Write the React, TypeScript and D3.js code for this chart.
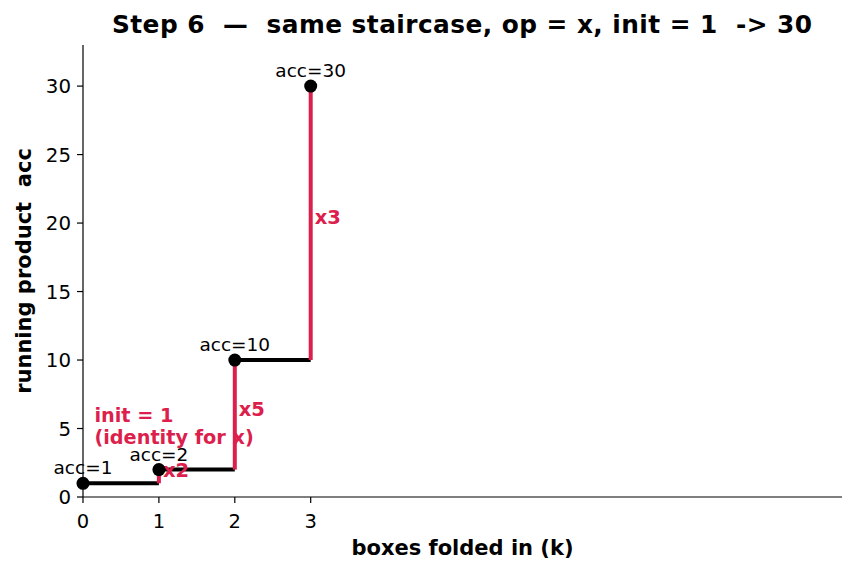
import React from "react";
import * as d3 from "d3";

const ks = [0, 1, 2, 3];
const accs = [1, 2, 10, 30];
const factors = ["x2", "x5", "x3"];
const xTicks = [0, 1, 2, 3];
const yTicks = [0, 5, 10, 15, 20, 25, 30];
const titleText = "Step 6  \u2014  same staircase, op = x, init = 1  -> 30";
const xLabel = "boxes folded in (k)";
const yLabel = "running product  acc";
const initNote = ["init = 1", "(identity for x)"];

const W = 856, H = 573;
const M = { left: 83, right: 842, top: 45, bottom: 497 };
const RED = "#dc1f4c";
const FONT = "DejaVu Sans, sans-serif";

export default function App() {
  const x = d3.scaleLinear().domain([0, 10]).range([M.left, M.right]);
  const y = d3.scaleLinear().domain([0, 33]).range([M.bottom, M.top]);

  const horiz = ks.slice(0, -1).map((k, i) => ({ x1: x(k), x2: x(ks[i + 1]), y: y(accs[i]) }));
  const vert = ks.slice(1).map((k, i) => ({ x: x(k), y1: y(accs[i]), y2: y(accs[i + 1]) }));

  return (
    <svg width={W} height={H} style={{ display: "block", position: "absolute", left: 0, top: 0, whiteSpace: "pre" }} fontFamily={FONT}>
      <rect width={W} height={H} fill="#fff" />
      <text x={462} y={33} textAnchor="middle" fontSize={24.8} fontWeight="bold" xmlSpace="preserve" textLength={700} lengthAdjust="spacing" style={{ whiteSpace: "pre" }}>{titleText}</text>

      {horiz.map((h, i) => (
        <line key={"h" + i} x1={h.x1} x2={h.x2} y1={h.y} y2={h.y} stroke="#000" strokeWidth={4} />
      ))}
      {vert.map((v, i) => (
        <line key={"v" + i} x1={v.x} x2={v.x} y1={v.y1} y2={v.y2} stroke={RED} strokeWidth={4} />
      ))}
      {vert.map((v, i) => (
        <text key={"f" + i} x={v.x + 4} y={(v.y1 + v.y2) / 2 + 1} fill={RED} fontSize={19.5} fontWeight="bold">{factors[i]}</text>
      ))}
      {ks.map((k, i) => (
        <circle key={"c" + i} cx={x(k)} cy={y(accs[i])} r={6.5} fill="#000" />
      ))}
      {ks.map((k, i) => (
        <text key={"t" + i} x={x(k)} y={y(accs[i]) - 9} textAnchor="middle" fontSize={18.5} fill="#000">{"acc=" + accs[i]}</text>
      ))}
      {initNote.map((s, i) => (
        <text key={"n" + i} x={x(0.15)} y={422 + i * 22} fill={RED} fontSize={19.3} fontWeight="bold">{s}</text>
      ))}

      {/* axes */}
      <line x1={M.left} x2={M.left} y1={M.top} y2={M.bottom} stroke="#000" strokeWidth={1.2} />
      <line x1={M.left} x2={M.right} y1={M.bottom} y2={M.bottom} stroke="#000" strokeWidth={1.2} />
      {xTicks.map(t => (
        <g key={"xt" + t}>
          <line x1={x(t)} x2={x(t)} y1={M.bottom} y2={M.bottom + 6} stroke="#000" strokeWidth={1.2} />
          <text x={x(t)} y={528} textAnchor="middle" fontSize={19.5}>{t}</text>
        </g>
      ))}
      {yTicks.map(t => (
        <g key={"yt" + t}>
          <line x1={M.left - 6} x2={M.left} y1={y(t)} y2={y(t)} stroke="#000" strokeWidth={1.2} />
          <text x={M.left - 12} y={y(t)} dy="0.36em" textAnchor="end" fontSize={19.8}>{t}</text>
        </g>
      ))}
      <text x={(M.left + M.right) / 2} y={555} textAnchor="middle" fontSize={21} fontWeight="bold">{xLabel}</text>
      <text transform={`translate(31,${(M.top + M.bottom) / 2}) rotate(-90)`} textAnchor="middle" fontSize={21} fontWeight="bold" xmlSpace="preserve" style={{ whiteSpace: "pre" }}>{yLabel}</text>
    </svg>
  );
}
